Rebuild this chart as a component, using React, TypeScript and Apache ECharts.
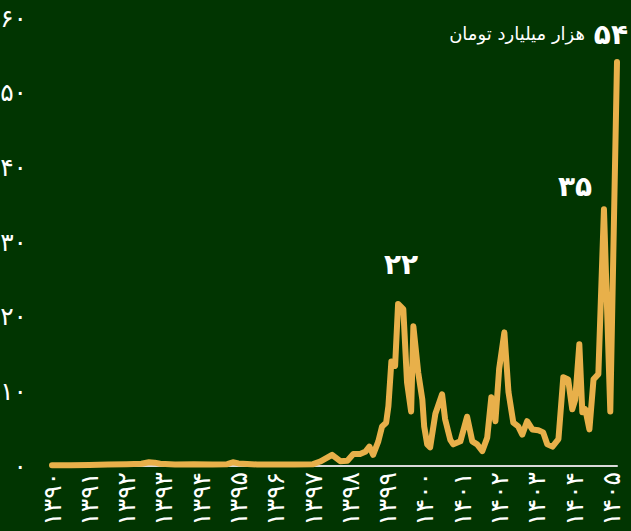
import React, { useEffect, useRef } from "react";
import * as echarts from "echarts";

// Year positions (Solar Hijri, fractional) and values (thousand billion toman)
const years: number[] = [
  1390.0, 1390.5, 1391.0, 1391.5, 1392.0, 1392.4, 1392.6, 1392.75, 1392.9, 1393.3,
  1393.8, 1394.3, 1394.7, 1394.85, 1395.0, 1395.5, 1396.0, 1396.5, 1397.0, 1397.19,
  1397.51, 1397.73, 1397.92, 1398.08, 1398.26, 1398.4, 1398.51, 1398.61, 1398.75, 1398.85,
  1398.96, 1399.02, 1399.1, 1399.2, 1399.28, 1399.42, 1399.52, 1399.63, 1399.69, 1399.82,
  1399.93, 1399.98, 1400.06, 1400.14, 1400.28, 1400.46, 1400.54, 1400.68, 1400.76, 1400.95,
  1401.13, 1401.27, 1401.4, 1401.54, 1401.67, 1401.78, 1401.89, 1401.99, 1402.13, 1402.24,
  1402.37, 1402.5, 1402.61, 1402.74, 1402.88, 1403.04, 1403.17, 1403.28, 1403.42, 1403.58,
  1403.71, 1403.84, 1403.95, 1404.03, 1404.14, 1404.22, 1404.3, 1404.41, 1404.52, 1404.65,
  1404.8, 1404.97, 1405.15,
];
const values: number[] = [
  0.1, 0.1, 0.15, 0.2, 0.25, 0.3, 0.5, 0.45, 0.3, 0.2,
  0.25, 0.2, 0.25, 0.5, 0.35, 0.2, 0.2, 0.2, 0.25, 0.6,
  1.5, 0.65, 0.7, 1.6, 1.6, 1.9, 2.6, 1.5, 3.3, 5.3,
  5.8, 8.0, 14.0, 13.4, 21.7, 21.0, 11.2, 7.3, 18.7, 12.5,
  8.9, 5.3, 2.9, 2.5, 7.0, 9.6, 6.3, 3.5, 2.9, 3.3,
  6.6, 3.3, 2.9, 2.0, 3.8, 9.2, 6.0, 13.0, 17.9, 9.9,
  5.8, 5.3, 4.2, 6.0, 4.9, 4.8, 4.5, 2.9, 2.6, 3.6,
  11.9, 11.6, 7.6, 8.9, 16.3, 7.2, 7.6, 4.9, 11.6, 12.3,
  34.4, 7.3, 54.1,
];

const yTicks: number[] = [0, 10, 20, 30, 40, 50, 60];
const xTickStart = 1390;
const xTickEnd = 1405;

const peakLabelMain = "۵۴";
const peakLabelUnit = "هزار میلیارد تومان";
const peakLabel2 = "۳۵";
const peakLabel3 = "۲۲";

const BG = "#013501";
const LINE = "#e8b04a";
const FONT = "DejaVu Sans, sans-serif";

const fa = (v: number | string) =>
  String(v).replace(/\d/g, (d) => "۰۱۲۳۴۵۶۷۸۹"[Number(d)]);

export default function App() {
  const ref = useRef<HTMLDivElement>(null);
  useEffect(() => {
    document.body.style.margin = "0";
    if (!ref.current) return;
    const chart = echarts.init(ref.current, undefined, { renderer: "svg" });
    const data = years.map((y, i) => [y, values[i]]);
    chart.setOption({
      animation: false,
      backgroundColor: BG,
      grid: {
        left: 52,
        right: 14,
        top: 18,
        bottom: 65,
        containLabel: false,
        outerBoundsMode: "none",
      },
      xAxis: {
        type: "value",
        min: xTickStart,
        max: years[years.length - 1],
        interval: 1,
        axisLine: { show: true, lineStyle: { color: "#d9d9d9", width: 2 } },
        axisTick: { show: false },
        splitLine: { show: false },
        axisLabel: {
          rotate: 90,
          color: "#ffffff",
          fontSize: 25,
          fontFamily: FONT,
          margin: 6,
          showMaxLabel: false,
          formatter: (v: number) =>
            Number.isInteger(Math.round(v * 1000) / 1000) && v >= xTickStart && v <= xTickEnd
              ? fa(Math.round(v))
              : "",
        },
      },
      yAxis: {
        type: "value",
        min: yTicks[0],
        max: yTicks[yTicks.length - 1],
        interval: 10,
        axisLine: { show: false },
        axisTick: { show: false },
        splitLine: { show: false },
        axisLabel: {
          color: "#ffffff",
          fontSize: 25,
          fontFamily: FONT,
          margin: 25,
          formatter: (v: number) => fa(v),
        },
      },
      series: [
        {
          type: "line",
          data,
          showSymbol: false,
          symbol: "none",
          lineStyle: { color: LINE, width: 6, cap: "round", join: "round" },
          z: 3,
        },
      ],
      graphic: [
        {
          type: "text",
          right: 3,
          top: 20,
          style: {
            text: peakLabelMain,
            fill: "#ffffff",
            font: `bold 28px ${FONT}`,
          },
        },
        {
          type: "text",
          right: 46,
          top: 24,
          style: {
            text: peakLabelUnit,
            fill: "#ffffff",
            font: `18px ${FONT}`,
          },
        },
        {
          type: "text",
          left: 558,
          top: 172,
          style: {
            text: peakLabel2,
            fill: "#ffffff",
            font: `bold 28px ${FONT}`,
          },
        },
        {
          type: "text",
          left: 384,
          top: 250,
          style: {
            text: peakLabel3,
            fill: "#ffffff",
            font: `bold 28px ${FONT}`,
          },
        },
      ],
    });
    return () => chart.dispose();
  }, []);
  return <div ref={ref} style={{ width: 631, height: 531 }} />;
}
